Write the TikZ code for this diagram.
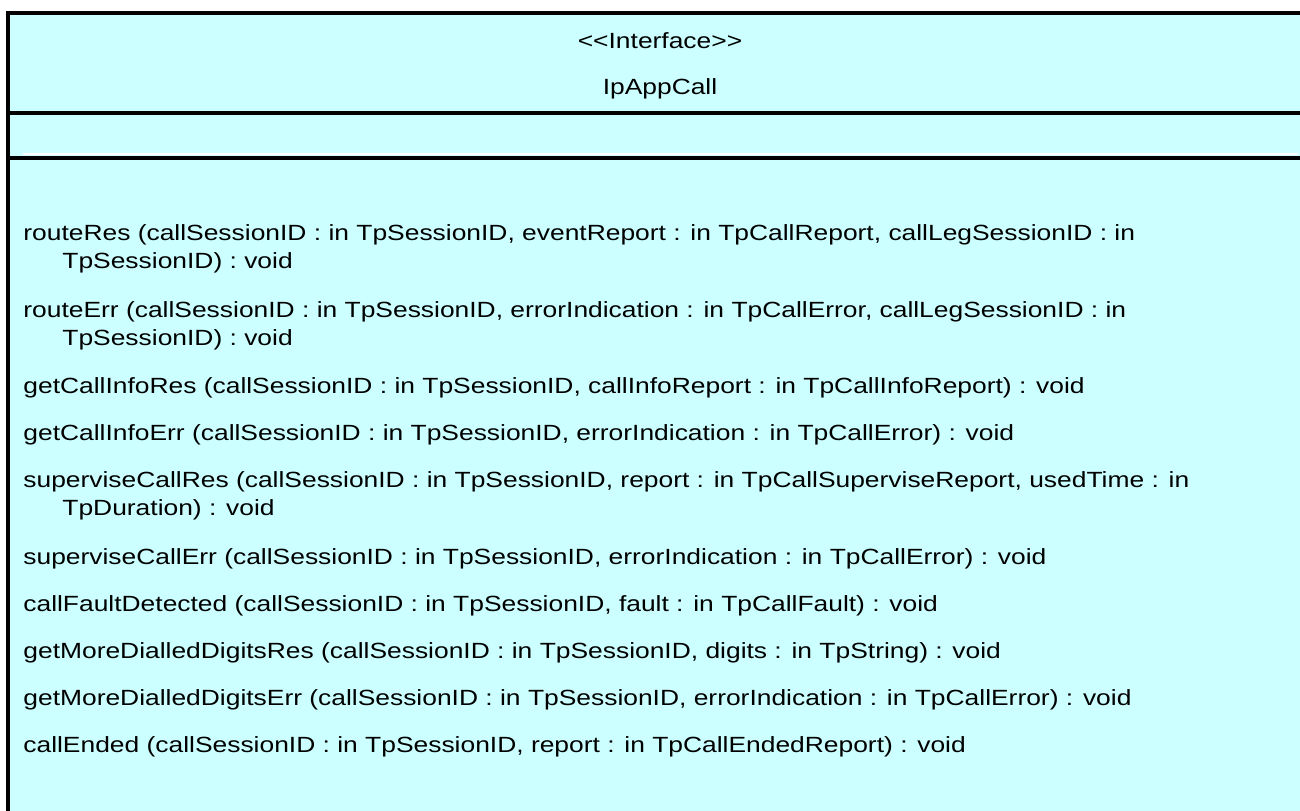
\documentclass[tikz,border=0pt]{standalone}
\usepackage{fontspec}
\setmainfont{Liberation Sans}
\usepackage{tikz}

\definecolor{classfill}{HTML}{CCFFFF}
\newcommand{\widetext}[1]{\scalebox{1.2}[1]{#1}}

\begin{document}
\begin{tikzpicture}[x=0.5pt,y=-0.5pt,
   op/.style={anchor=base west,inner sep=0pt,font=\fontsize{11}{13}\selectfont},
   title/.style={anchor=base,inner sep=0pt,font=\fontsize{11}{13}\selectfont},
   edge/.style={line width=2pt}]
   \useasboundingbox (0,0) rectangle (1300,810);
   \begin{scope}
   \clip (0,0) rectangle (1300,810);
   \fill[classfill] (8,13) rectangle (1320,830);
   \fill[white] (23,153) rectangle (1298,155);
   \draw[edge] (8,11) -- (8,812);
   \draw[edge] (6,13) -- (1302,13);
   \draw[edge] (6,113) -- (1302,113);
   \draw[edge] (6,158) -- (1302,158);
   \end{scope}
   % header
   \node[title] (stereo) at (660,48) {\widetext{<{}<Interface>{}>}};
   \node[title] (name) at (660,94) {\widetext{IpAppCall}};
   % operations
   \node[op] (routeRes) at (23,240) {\widetext{routeRes (callSessionID : in TpSessionID, eventReport : in TpCallReport, callLegSessionID : in}};
   \node[op] (routeResB) at (62,268) {\widetext{TpSessionID) : void}};
   \node[op] (routeErr) at (23,317) {\widetext{routeErr (callSessionID : in TpSessionID, errorIndication : in TpCallError, callLegSessionID : in}};
   \node[op] (routeErrB) at (62,345) {\widetext{TpSessionID) : void}};
   \node[op] (infoRes) at (23,393) {\widetext{getCallInfoRes (callSessionID : in TpSessionID, callInfoReport : in TpCallInfoReport) : void}};
   \node[op] (infoErr) at (23,440) {\widetext{getCallInfoErr (callSessionID : in TpSessionID, errorIndication : in TpCallError) : void}};
   \node[op] (superRes) at (23,487) {\widetext{superviseCallRes (callSessionID : in TpSessionID, report : in TpCallSuperviseReport, usedTime : in}};
   \node[op] (superResB) at (62,515) {\widetext{TpDuration) : void}};
   \node[op] (superErr) at (23,564) {\widetext{superviseCallErr (callSessionID : in TpSessionID, errorIndication : in TpCallError) : void}};
   \node[op] (fault) at (23,611) {\widetext{callFaultDetected (callSessionID : in TpSessionID, fault : in TpCallFault) : void}};
   \node[op] (digitsRes) at (23,658) {\widetext{getMoreDialledDigitsRes (callSessionID : in TpSessionID, digits : in TpString) : void}};
   \node[op] (digitsErr) at (23,705) {\widetext{getMoreDialledDigitsErr (callSessionID : in TpSessionID, errorIndication : in TpCallError) : void}};
   \node[op] (ended) at (23,752) {\widetext{callEnded (callSessionID : in TpSessionID, report : in TpCallEndedReport) : void}};
\end{tikzpicture}
\end{document}
